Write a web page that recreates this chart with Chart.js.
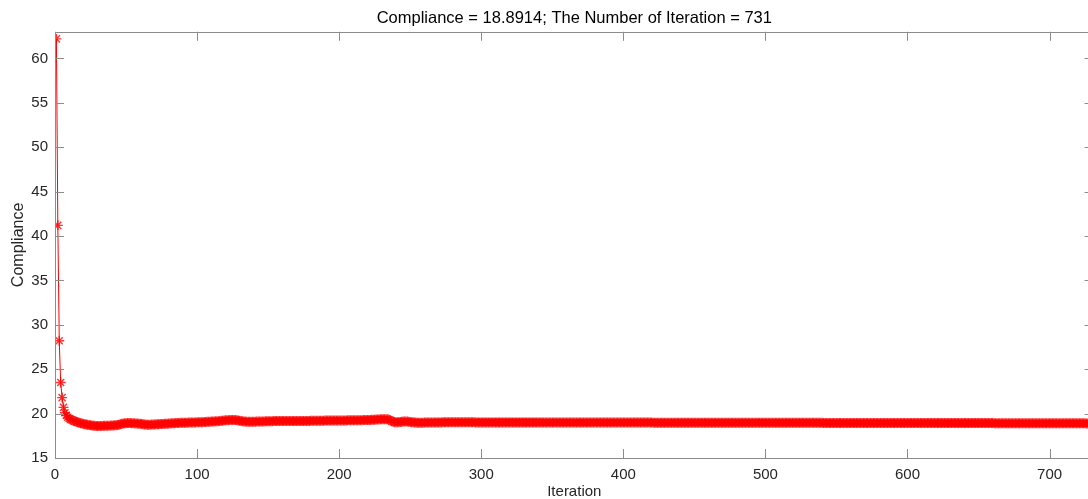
<!DOCTYPE html>
<html>
<head>
<meta charset="utf-8">
<title>Compliance history</title>
<script src="https://cdn.jsdelivr.net/npm/chart.js@4.4.0/dist/chart.umd.min.js"></script>
<style>
    html, body { margin: 0; padding: 0; background: #fff; overflow: hidden; }
    #wrap { width: 1100px; height: 499px; }
</style>
</head>
<body>
<div id="wrap"><canvas id="compChart" width="1100" height="499"></canvas></div>
<script>
// values, one per iteration (1..731)
const compliance = [
    62.2, 41.2, 28.2, 23.5, 21.8, 20.7, 20.1, 19.8, 19.6, 19.45,
    19.35, 19.28, 19.2, 19.13, 19.07, 19.02, 18.97, 18.92, 18.88, 18.84,
    18.8, 18.77, 18.74, 18.71, 18.68, 18.66, 18.64, 18.62, 18.61, 18.6,
    18.6, 18.6, 18.61, 18.62, 18.62, 18.63, 18.63, 18.64, 18.65, 18.66,
    18.67, 18.68, 18.7, 18.72, 18.75, 18.8, 18.85, 18.88, 18.9, 18.92,
    18.93, 18.93, 18.93, 18.92, 18.91, 18.9, 18.89, 18.88, 18.87, 18.85,
    18.83, 18.8, 18.78, 18.76, 18.75, 18.75, 18.75, 18.76, 18.77, 18.78,
    18.79, 18.8, 18.81, 18.82, 18.83, 18.84, 18.85, 18.86, 18.87, 18.88,
    18.89, 18.9, 18.91, 18.92, 18.93, 18.94, 18.95, 18.96, 18.96, 18.97,
    18.97, 18.98, 18.98, 18.99, 18.99, 19, 19, 19.01, 19.01, 19.02,
    19.02, 19.03, 19.03, 19.04, 19.05, 19.06, 19.07, 19.08, 19.09, 19.1,
    19.11, 19.12, 19.13, 19.14, 19.15, 19.17, 19.19, 19.2, 19.22, 19.24,
    19.25, 19.26, 19.27, 19.28, 19.28, 19.28, 19.27, 19.25, 19.22, 19.19,
    19.16, 19.13, 19.11, 19.1, 19.09, 19.08, 19.08, 19.08, 19.08, 19.09,
    19.09, 19.1, 19.1, 19.11, 19.11, 19.12, 19.12, 19.13, 19.13, 19.14,
    19.14, 19.15, 19.15, 19.16, 19.16, 19.16, 19.17, 19.17, 19.17, 19.17,
    19.17, 19.17, 19.17, 19.17, 19.16, 19.16, 19.16, 19.16, 19.16, 19.16,
    19.16, 19.17, 19.17, 19.17, 19.17, 19.18, 19.18, 19.18, 19.18, 19.19,
    19.19, 19.19, 19.19, 19.2, 19.2, 19.2, 19.2, 19.2, 19.2, 19.21,
    19.21, 19.21, 19.21, 19.21, 19.22, 19.22, 19.22, 19.22, 19.22, 19.22,
    19.23, 19.23, 19.23, 19.23, 19.23, 19.24, 19.24, 19.24, 19.24, 19.25,
    19.25, 19.25, 19.25, 19.26, 19.26, 19.26, 19.27, 19.27, 19.28, 19.28,
    19.29, 19.29, 19.3, 19.31, 19.32, 19.33, 19.34, 19.35, 19.36, 19.36,
    19.37, 19.37, 19.37, 19.36, 19.33, 19.25, 19.15, 19.08, 19.04, 19.03,
    19.03, 19.04, 19.06, 19.08, 19.1, 19.12, 19.12, 19.11, 19.09, 19.06,
    19.04, 19.02, 19, 18.99, 18.98, 18.98, 18.98, 18.98, 18.98, 18.99,
    18.99, 18.99, 18.99, 19, 19, 19, 19, 19, 19.01, 19.01,
    19.01, 19.01, 19.02, 19.02, 19.02, 19.02, 19.02, 19.02, 19.02, 19.02,
    19.02, 19.02, 19.02, 19.02, 19.02, 19.02, 19.02, 19.02, 19.02, 19.02,
    19.02, 19.02, 19.02, 19.02, 19.02, 19.01, 19.01, 19.01, 19.01, 19.01,
    19.01, 19.01, 19.01, 19.01, 19.01, 19.01, 19.01, 19.01, 19.01, 19.01,
    19.01, 19.01, 19.01, 19.01, 19.01, 19.01, 19.01, 19.01, 19.01, 19.01,
    19.01, 19.01, 19.01, 19.01, 19.01, 19.01, 19.01, 19.01, 19.01, 19.01,
    19.01, 19.01, 19.01, 19.01, 19.01, 19.01, 19.01, 19.01, 19.01, 19.01,
    19, 19, 19, 19, 19, 19, 19, 19, 19, 19,
    19, 19, 19, 19, 19, 19, 19, 19, 19, 19,
    19, 19, 19, 19, 19, 19, 19, 19, 19, 19,
    19, 19, 19, 19, 19, 19, 19, 19, 19, 19,
    18.99, 18.99, 18.99, 18.99, 18.99, 18.99, 18.99, 18.99, 18.99, 18.99,
    18.99, 18.99, 18.99, 18.99, 18.99, 18.99, 18.99, 18.99, 18.99, 18.99,
    18.99, 18.99, 18.99, 18.99, 18.99, 18.99, 18.99, 18.99, 18.99, 18.99,
    18.99, 18.99, 18.99, 18.99, 18.99, 18.99, 18.99, 18.99, 18.99, 18.99,
    18.98, 18.98, 18.98, 18.98, 18.98, 18.98, 18.98, 18.98, 18.98, 18.98,
    18.98, 18.98, 18.98, 18.98, 18.98, 18.98, 18.98, 18.98, 18.98, 18.98,
    18.98, 18.98, 18.98, 18.98, 18.98, 18.98, 18.98, 18.98, 18.98, 18.98,
    18.98, 18.98, 18.98, 18.98, 18.98, 18.98, 18.98, 18.98, 18.98, 18.98,
    18.97, 18.97, 18.97, 18.97, 18.97, 18.97, 18.97, 18.97, 18.97, 18.97,
    18.97, 18.97, 18.97, 18.97, 18.97, 18.97, 18.97, 18.97, 18.97, 18.97,
    18.97, 18.97, 18.97, 18.97, 18.97, 18.97, 18.97, 18.97, 18.97, 18.97,
    18.97, 18.97, 18.97, 18.97, 18.97, 18.97, 18.97, 18.97, 18.97, 18.97,
    18.96, 18.96, 18.96, 18.96, 18.96, 18.96, 18.96, 18.96, 18.96, 18.96,
    18.96, 18.96, 18.96, 18.96, 18.96, 18.96, 18.96, 18.96, 18.96, 18.96,
    18.96, 18.96, 18.96, 18.96, 18.96, 18.96, 18.96, 18.96, 18.96, 18.96,
    18.96, 18.96, 18.96, 18.96, 18.96, 18.96, 18.96, 18.96, 18.96, 18.96,
    18.95, 18.95, 18.95, 18.95, 18.95, 18.95, 18.95, 18.95, 18.95, 18.95,
    18.95, 18.95, 18.95, 18.95, 18.95, 18.95, 18.95, 18.95, 18.95, 18.95,
    18.95, 18.95, 18.95, 18.95, 18.95, 18.95, 18.95, 18.95, 18.95, 18.95,
    18.95, 18.95, 18.95, 18.95, 18.95, 18.95, 18.95, 18.95, 18.95, 18.95,
    18.94, 18.94, 18.94, 18.94, 18.94, 18.94, 18.94, 18.94, 18.94, 18.94,
    18.94, 18.94, 18.94, 18.94, 18.94, 18.94, 18.94, 18.94, 18.94, 18.94,
    18.94, 18.94, 18.94, 18.94, 18.94, 18.94, 18.94, 18.94, 18.94, 18.94,
    18.94, 18.94, 18.94, 18.94, 18.94, 18.94, 18.94, 18.94, 18.94, 18.94,
    18.93, 18.93, 18.93, 18.93, 18.93, 18.93, 18.93, 18.93, 18.93, 18.93,
    18.93, 18.93, 18.93, 18.93, 18.93, 18.93, 18.93, 18.93, 18.93, 18.93,
    18.93, 18.93, 18.93, 18.93, 18.93, 18.93, 18.93, 18.93, 18.93, 18.93,
    18.93, 18.93, 18.93, 18.93, 18.93, 18.93, 18.93, 18.93, 18.93, 18.93,
    18.92, 18.92, 18.92, 18.92, 18.92, 18.92, 18.92, 18.92, 18.92, 18.92,
    18.92, 18.92, 18.92, 18.92, 18.92, 18.92, 18.92, 18.92, 18.92, 18.92,
    18.92, 18.92, 18.92, 18.92, 18.92, 18.92, 18.92, 18.92, 18.92, 18.92,
    18.92, 18.92, 18.92, 18.92, 18.92, 18.92, 18.92, 18.92, 18.92, 18.92,
    18.91, 18.91, 18.91, 18.91, 18.91, 18.91, 18.91, 18.91, 18.91, 18.91,
    18.91, 18.91, 18.91, 18.91, 18.91, 18.91, 18.91, 18.91, 18.91, 18.91,
    18.9, 18.9, 18.9, 18.9, 18.9, 18.89, 18.89, 18.89, 18.89, 18.89,
    18.8914
];

const xTicks = [0, 100, 200, 300, 400, 500, 600, 700];
const yTicks = [15, 20, 25, 30, 35, 40, 45, 50, 55, 60];
const xRange = [0, 731];
const yRange = [15, 63];

const titleText = 'Compliance = 18.8914; The Number of Iteration = 731';
const xTitle = 'Iteration';
const yTitle = 'Compliance';

const axisGray = '#8c8c8c';
const labelColor = '#262626';
const fontFamily = 'Arial, "Liberation Sans", Helvetica, sans-serif';

// matlab-like box around the axes with ticks pointing inward
const matlabBox = {
    id: 'matlabBox',
    afterDatasetsDraw(chart) {
        const { ctx, chartArea: a, scales } = chart;
        const len = 9;
        ctx.save();
        ctx.strokeStyle = axisGray;
        ctx.lineWidth = 1;
        ctx.beginPath();
        scales.x.ticks.forEach(t => {
            const px = Math.round(scales.x.getPixelForValue(t.value)) + 0.5;
            ctx.moveTo(px, a.bottom); ctx.lineTo(px, a.bottom - len);
            ctx.moveTo(px, a.top); ctx.lineTo(px, a.top + len);
        });
        scales.y.ticks.forEach(t => {
            const py = Math.round(scales.y.getPixelForValue(t.value)) + 0.5;
            ctx.moveTo(a.left, py); ctx.lineTo(a.left + len, py);
            ctx.moveTo(a.right, py); ctx.lineTo(a.right - len, py);
        });
        ctx.stroke();
        ctx.strokeRect(Math.round(a.left) + 0.5, Math.round(a.top) + 0.5,
            Math.round(a.right - a.left), Math.round(a.bottom - a.top));
        ctx.restore();
    }
};

const points = compliance.map((v, i) => ({ x: i + 1, y: v }));

const ctx = document.getElementById('compChart').getContext('2d');
const compChart = new Chart(ctx, {
    type: 'line',
    data: {
        datasets: [{
            data: points,
            borderColor: '#ff0000',
            borderWidth: 1,
            pointStyle: 'star',
            pointRadius: 5,
            pointBorderWidth: 1.4,
            pointBorderColor: 'rgba(255, 0, 0, 0.8)',
            pointBackgroundColor: 'rgba(255, 0, 0, 0.8)',
            tension: 0
        }]
    },
    plugins: [matlabBox],
    options: {
        responsive: false,
        animation: false,
        devicePixelRatio: 1,
        layout: { padding: { left: 0, right: 0, top: 0, bottom: 0 } },
        plugins: {
            legend: { display: false },
            tooltip: { enabled: false },
            title: {
                display: true,
                text: titleText,
                fullSize: false,
                color: '#000',
                font: { family: fontFamily, size: 16.5, weight: 'normal', lineHeight: 1.2 },
                padding: { top: 9, bottom: 3 }
            }
        },
        scales: {
            x: {
                type: 'linear',
                min: xRange[0],
                max: xRange[1],
                afterBuildTicks: s => { s.ticks = xTicks.map(v => ({ value: v })); },
                afterFit: s => { s.height = 41; },
                grid: { display: false, drawTicks: false },
                border: { display: false },
                ticks: {
                    color: labelColor,
                    padding: 8,
                    maxRotation: 0,
                    font: { family: fontFamily, size: 15 }
                },
                title: {
                    display: true,
                    text: xTitle,
                    color: labelColor,
                    font: { family: fontFamily, size: 15, lineHeight: 1 },
                    padding: { top: 0, bottom: 0 }
                }
            },
            y: {
                type: 'linear',
                min: yRange[0],
                max: yRange[1],
                afterBuildTicks: s => { s.ticks = yTicks.map(v => ({ value: v })); },
                afterFit: s => { s.width = 55; },
                grid: { display: false, drawTicks: false },
                border: { display: false },
                ticks: {
                    color: labelColor,
                    padding: 7,
                    font: { family: fontFamily, size: 15 }
                },
                title: {
                    display: true,
                    text: yTitle,
                    color: labelColor,
                    font: { family: fontFamily, size: 16, lineHeight: 1 },
                    padding: { top: 11, bottom: 0 }
                }
            }
        }
    }
});
</script>
</body>
</html>
